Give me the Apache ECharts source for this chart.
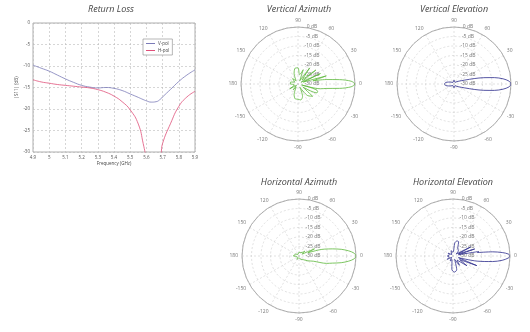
<!DOCTYPE html>
<html><head><meta charset="utf-8">
<script src="https://cdn.jsdelivr.net/npm/echarts@6/dist/echarts.min.js"></script>
<style>html,body{margin:0;padding:0;background:#fff}#c{width:530px;height:332px}</style>
</head><body><div id="c"></div>
<script>
// Return loss data
const rlFreq = [4.9, 4.95, 5.0, 5.05, 5.1, 5.15, 5.2, 5.25, 5.3, 5.35, 5.4, 5.45, 5.5, 5.55, 5.58, 5.6, 5.63, 5.66, 5.69, 5.7, 5.75, 5.8, 5.85, 5.9];
const rlVpol = [-9.8, -10.5, -11.2, -12.1, -13.0, -13.8, -14.5, -14.9, -15.1, -15.0, -15.2, -15.7, -16.5, -17.3, -17.8, -18.1, -18.4, -18.3, -17.6, -17.2, -15.4, -13.6, -12.1, -10.9];
const rlHpol = [-13.2, -13.7, -14.0, -14.3, -14.5, -14.7, -14.9, -15.1, -15.5, -16.1, -17.0, -18.3, -20.2, -23.5, -28.0, -32.0, -40.0, -36.0, -30.5, -28.0, -23.3, -19.4, -17.2, -15.9];
const rlXTicks = [4.9, 5.0, 5.1, 5.2, 5.3, 5.4, 5.5, 5.6, 5.7, 5.8, 5.9];
const rlYTicks = [0, -5, -10, -15, -20, -25, -30];

// Polar patterns (angle deg, gain dB)
const vaAngles = [-180, -165, -150, -140, -130, -120, -110, -100, -90, -80, -70, -60, -50, -40, -32, -25, -20, -15, -12, -9, -6, -3, 0, 3, 6, 9, 12, 16, 20, 25, 30, 38, 45, 54, 62, 70, 80, 90, 100, 110, 120, 135, 150, 165, 180];
const vaGain = [-26, -28, -25, -29, -26, -28, -24, -22, -22, -21.5, -23, -28, -22, -20, -27, -19, -19, -28, -18, -15, -8, -2, 0, -2, -8, -15, -22, -14.5, -27, -17, -28, -18, -27, -19.5, -28, -22, -25, -21.5, -21.5, -24, -28, -26, -28, -26, -26];

const veAngles = [-180, -170, -160, -150, -120, -90, -60, -40, -30, -20, -15, -12, -9, -6, -3, 0, 3, 6, 9, 12, 15, 20, 30, 40, 60, 90, 120, 150, 160, 170, 180];
const veGain = [-25, -25.5, -27, -28, -29, -28, -29, -28, -27, -24, -19, -14, -8.5, -4, -1, 0, -1, -4, -8.5, -14, -19, -24, -27, -28, -29, -28, -29, -28, -27, -25.5, -25];

const haAngles = [-180, -150, -120, -90, -60, -40, -30, -20, -15, -12, -9, -6, -3, 0, 3, 6, 9, 12, 15, 17, 20, 25, 30, 40, 60, 90, 120, 150, 180];
const haGain = [-27, -29, -28, -29, -28, -27, -25, -22, -15, -12, -7.5, -3.8, -1, 0, -1, -3.8, -7.5, -12, -16, -19, -25, -21, -28, -26, -28, -28, -29, -28, -27];

const heAngles = [-180, -165, -150, -135, -120, -105, -95, -85, -75, -65, -55, -45, -35, -28, -22, -17, -12, -8, -5, -2, 0, 2, 4, 6, 8, 10, 13, 18, 22, 27, 33, 45, 60, 68, 75, 82, 90, 110, 130, 150, 165, 180];
const heGain = [-27, -28, -26.5, -29, -27, -28, -23, -21.5, -22.5, -28, -24, -27, -21, -26, -16.5, -27, -17, -9, -4, -0.8, 0, -0.8, -4, -9, -17, -16.3, -27, -18, -27, -19.7, -28, -26, -25, -22, -21.8, -23, -28, -27, -29, -27, -28, -27];

const titles = ['Return Loss', 'Vertical Azimuth', 'Vertical Elevation', 'Horizontal Azimuth', 'Horizontal Elevation'];

const GREEN = '#5cb83a', NAVY = '#2b2b8c';
const chart = echarts.init(document.getElementById('c'), null, {renderer: 'canvas'});

function mapAng(a) { return ((a - 90) % 360 + 360) % 360 + 90; }
function polarData(angles, gains) { return angles.map((a, i) => [gains[i], mapAng(a)]); }

const polars = [
  {c: [298, 84], t: [294, 0]},
  {c: [454, 84], t: [449, 0]},
  {c: [299, 256], t: [294, 173]},
  {c: [453, 256], t: [448, 173]}
];
const lbl = {fontFamily: 'Open Sans', fontSize: 5, color: '#777'};

const option = {
  animation: false,
  backgroundColor: '#fff',
  title: titles.map((t, i) => ({
    text: t,
    left: i === 0 ? 106 : polars[i - 1].t[0],
    top: i === 0 ? 0 : polars[i - 1].t[1],
    textAlign: 'center',
    textStyle: {fontFamily: 'Open Sans', fontStyle: 'italic', fontWeight: 'normal', fontSize: 9, color: '#444'}
  })),
  grid: {left: 33, right: 335, top: 23, bottom: 180, show: true, borderColor: '#999', borderWidth: 0.8, containLabel: false},
  legend: {
    left: 143, top: 39, orient: 'vertical', itemGap: 2, itemWidth: 9, itemHeight: 1,
    padding: [2, 3, 2, 3], borderColor: '#888', borderWidth: 0.6, backgroundColor: '#fff',
    icon: 'rect', textStyle: {fontFamily: 'Open Sans', fontSize: 4.5, color: '#444', padding: [0, 0, 0, -2]},
    data: ['V-pol', 'H-pol']
  },
  xAxis: {
    type: 'value', min: rlXTicks[0], max: rlXTicks[rlXTicks.length - 1], interval: 0.1,
    name: 'Frequency (GHz)', nameLocation: 'middle', nameGap: 9, nameTextStyle: {fontFamily: 'Open Sans', fontSize: 4.5, color: '#444'},
    axisLine: {show: false}, axisTick: {show: false},
    axisLabel: {fontFamily: 'Open Sans', fontSize: 4.5, color: '#555', margin: 3},
    splitLine: {lineStyle: {type: [2, 2], color: '#bbb', width: 0.6}}
  },
  yAxis: {
    type: 'value', min: rlYTicks[rlYTicks.length - 1], max: rlYTicks[0], interval: 5,
    name: '|S11| (dB)', nameLocation: 'middle', nameGap: 11, nameTextStyle: {fontFamily: 'Open Sans', fontSize: 4.5, color: '#444'},
    axisLine: {show: false}, axisTick: {show: false},
    axisLabel: {fontFamily: 'Open Sans', fontSize: 4.5, color: '#555', margin: 3},
    splitLine: {lineStyle: {type: [2, 2], color: '#bbb', width: 0.6}}
  },
  polar: polars.map(p => ({center: p.c, radius: 57})),
  angleAxis: polars.map((p, i) => ({
    polarIndex: i, type: 'value', min: 90, max: 450, interval: 30, startAngle: 90, clockwise: false,
    axisLine: {lineStyle: {color: '#999', width: 0.8}},
    axisTick: {show: false},
    axisLabel: Object.assign({margin: 4, formatter: v => { if (v >= 450) return ''; let a = v > 180 ? v - 360 : v; return String(a); }}, lbl),
    splitLine: {show: true, lineStyle: {type: [2, 2], color: '#ccc', width: 0.6}}
  })),
  radiusAxis: polars.map((p, i) => ({
    polarIndex: i, type: 'value', min: -30, max: 0, interval: 5,
    axisLine: {show: false}, axisTick: {show: false},
    axisLabel: Object.assign({formatter: v => v + ' dB', margin: -14, align: 'center'}, lbl),
    splitLine: {show: true, lineStyle: {type: [2, 2], color: '#ccc', width: 0.6}}
  })),
  series: [
    {name: 'V-pol', type: 'line', data: rlFreq.map((f, i) => [f, rlVpol[i]]), smooth: true, showSymbol: false, lineStyle: {color: '#7b7bb8', width: 0.8}, itemStyle: {color: '#7b7bb8'}},
    {name: 'H-pol', type: 'line', data: rlFreq.map((f, i) => [f, rlHpol[i]]), smooth: true, showSymbol: false, lineStyle: {color: '#e0507a', width: 0.8}, itemStyle: {color: '#e0507a'}},
    {type: 'line', coordinateSystem: 'polar', polarIndex: 0, data: polarData(vaAngles, vaGain), smooth: 0.3, showSymbol: false, lineStyle: {color: GREEN, width: 0.8}},
    {type: 'line', coordinateSystem: 'polar', polarIndex: 1, data: polarData(veAngles, veGain), smooth: 0.3, showSymbol: false, lineStyle: {color: NAVY, width: 0.8}},
    {type: 'line', coordinateSystem: 'polar', polarIndex: 2, data: polarData(haAngles, haGain), smooth: 0.3, showSymbol: false, lineStyle: {color: GREEN, width: 0.8}},
    {type: 'line', coordinateSystem: 'polar', polarIndex: 3, data: polarData(heAngles, heGain), smooth: 0.3, showSymbol: false, lineStyle: {color: NAVY, width: 0.8}}
  ]
};
chart.setOption(option);
</script></body></html>
